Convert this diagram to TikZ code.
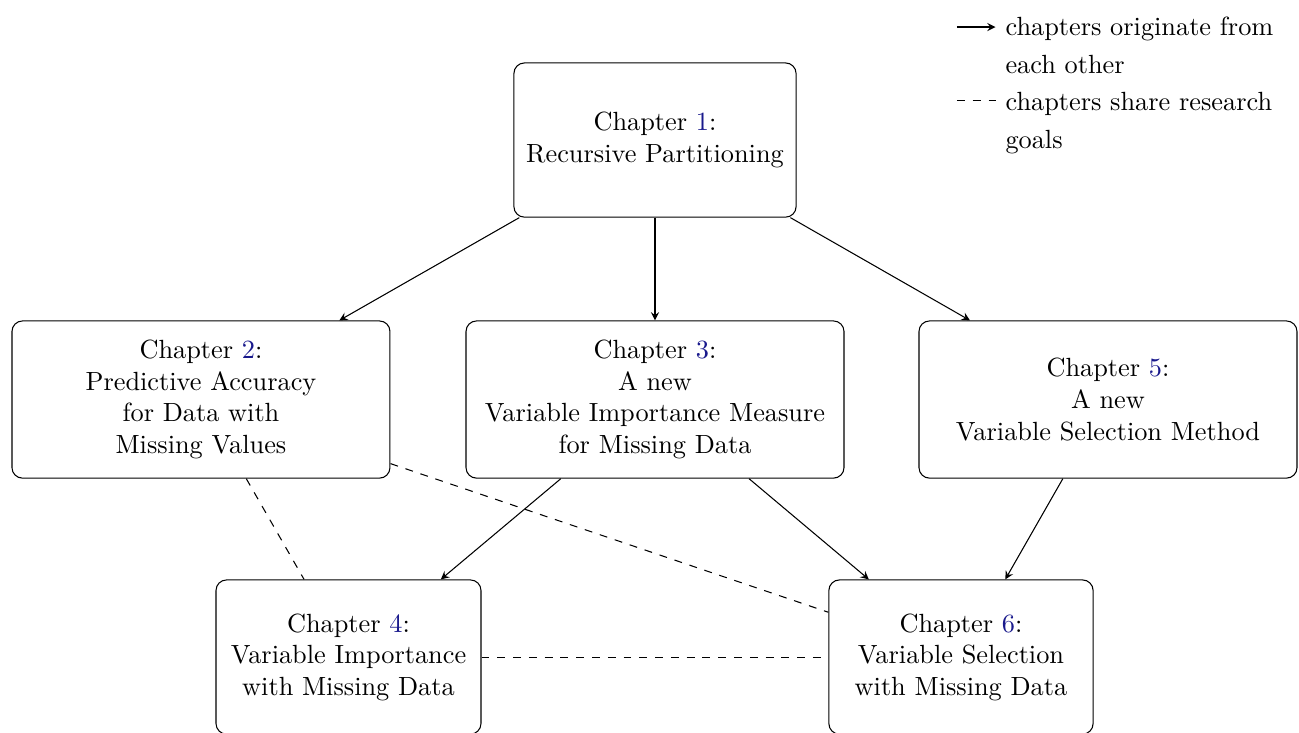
\documentclass[tikz,border=0pt]{standalone}
\usepackage{xcolor}
\usetikzlibrary{arrows}

\definecolor{chapref}{rgb}{0.1,0.1,0.55}
\newcommand{\chapnum}[1]{\textcolor{chapref}{#1}}

\begin{document}
\begin{tikzpicture}[
    chapbox/.style={rectangle, draw, rounded corners=4pt, align=center, inner sep=2pt},
    arrow/.style={-stealth},
    share/.style={dashed},
    legendtext/.style={font={\baselineskip=14.4pt}, align=left, anchor=north west, inner sep=0pt}
]
    \useasboundingbox (0,0) rectangle (17.355,9.78);

    % Top chapter
    \node[chapbox, minimum width=3.77cm, minimum height=2.06cm] (ch1) at (8.751,7.909)
        {Chapter \chapnum{1}:\\Recursive Partitioning};

    % Middle row
    \node[chapbox, minimum width=5.05cm, minimum height=2.10cm] (ch2) at (2.685,4.442)
        {Chapter \chapnum{2}:\\Predictive Accuracy\\for Data with\\Missing Values};
    \node[chapbox, minimum width=5.05cm, minimum height=2.10cm] (ch3) at (8.751,4.442)
        {Chapter \chapnum{3}:\\A new\\Variable Importance Measure\\for Missing Data};
    \node[chapbox, minimum width=5.05cm, minimum height=2.10cm] (ch5) at (14.803,4.442)
        {Chapter \chapnum{5}:\\A new\\Variable Selection Method};

    % Bottom row
    \node[chapbox, minimum width=3.54cm, minimum height=2.06cm] (ch4) at (4.656,1.002)
        {Chapter \chapnum{4}:\\Variable Importance\\with Missing Data};
    \node[chapbox, minimum width=3.53cm, minimum height=2.06cm] (ch6) at (12.839,1.002)
        {Chapter \chapnum{6}:\\Variable Selection\\with Missing Data};

    % Arrows
    \draw[arrow] (ch1) -- (ch2);
    \draw[arrow] (ch1) -- (ch3);
    \draw[arrow] (ch1) -- (ch5);
    \draw[arrow] (ch3) -- (ch4);
    \draw[arrow] (ch3) -- (ch6);
    \draw[arrow] (ch5) -- (ch6);

    % Shared goals
    \draw[share] (ch2) -- (ch4);
    \draw[share] (ch2) -- (ch6);
    \draw[share] (ch4) -- (ch6);

    % Legend
    \coordinate (arrowstart) at (12.785,9.419);
    \coordinate (arrowend) at (13.30,9.419);
    \coordinate (dashstart) at (12.785,8.443);
    \coordinate (dashend) at (13.30,8.443);
    \draw[arrow] (arrowstart) -- (arrowend);
    \draw[share] (dashstart) -- (dashend);
    \node[legendtext] (legorigin) at (13.427,9.556) {chapters originate from\\each other};
    \node[legendtext] (legshare) at (13.427,8.554) {chapters share research\\goals};
\end{tikzpicture}
\end{document}
